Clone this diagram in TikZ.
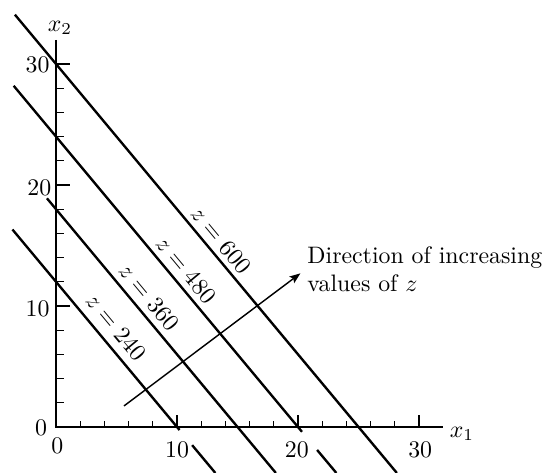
\documentclass[tikz,border=0pt]{standalone}
\usetikzlibrary{arrows.meta}

\begin{document}
\begin{tikzpicture}[
    x=5.08pt, y=5.08pt,
    axisline/.style={line width=0.55pt},
    level/.style={line width=1pt},
    ticklab/.style={inner sep=0pt},
    zlab/.style={rotate=-50.2, inner sep=0pt},
    dirarrow/.style={-{Stealth[length=1.6mm, width=1.2mm, inset=0.3mm]}, line width=0.6pt}
]
    \useasboundingbox (-4.63,-3.80) rectangle (40.91,35.29);

    % Axes
    \draw[axisline] (0,32) -- (0,0) -- (32,0);
    \foreach \t in {2,4,...,30} {
        \draw[axisline] (\t,0) -- (\t,0.5);
        \draw[axisline] (0,\t) -- (0.7,\t);
    }
    \foreach \t in {10,20,30} {
        \draw[axisline] (\t,0) -- (\t,0.95);
        \draw[axisline] (0,\t) -- (1.15,\t);
    }

    % Tick labels
    \node[ticklab, anchor=north] (xt0) at (0.1,-0.85) {0};
    \node[ticklab, anchor=north] (xt10) at (10,-1.2) {10};
    \node[ticklab, anchor=north] (xt20) at (19.9,-1.2) {20};
    \node[ticklab, anchor=north] (xt30) at (30.1,-1.2) {30};
    \node[ticklab, anchor=east] (yt0) at (-0.7,-0.1) {0};
    \node[ticklab, anchor=east] (yt10) at (-0.5,9.8) {10};
    \node[ticklab, anchor=east] (yt20) at (-0.35,19.8) {20};
    \node[ticklab, anchor=east] (yt30) at (-0.5,29.9) {30};
    \node (xone) at (33.55,-0.58) {$x_1$};
    \node (xtwo) at (0.33,33.0) {$x_2$};

    % Level lines
    \draw[level] (-3.4,34.08) -- (28.17,-3.8);
    \draw[level] (-3.5,28.2) -- (20.33,-0.4) (21.58,-1.9) -- (23.17,-3.8);
    \draw[level] (-0.75,18.9) -- (18.17,-3.8);
    \draw[level] (-3.6,16.32) -- (10.21,-0.25) (11.25,-1.5) -- (13.17,-3.8);

    \node[zlab] (z600) at (13.64,15.45) {$z = 600$};
    \node[zlab] (z480) at (10.74,12.98) {$z = 480$};
    \node[zlab] (z360) at (7.69,10.74) {$z = 360$};
    \node[zlab] (z240) at (4.96,8.26) {$z = 240$};

    % Direction
    \coordinate (dirstart) at (5.62,1.74);
    \coordinate (dirend) at (20.2,12.7);
    \draw[dirarrow] (dirstart) -- (dirend);
    \node[anchor=north west, inner sep=0pt, align=left] (dirtext) at (20.74,14.96)
        {Direction of increasing\\values of $z$};
\end{tikzpicture}
\end{document}
